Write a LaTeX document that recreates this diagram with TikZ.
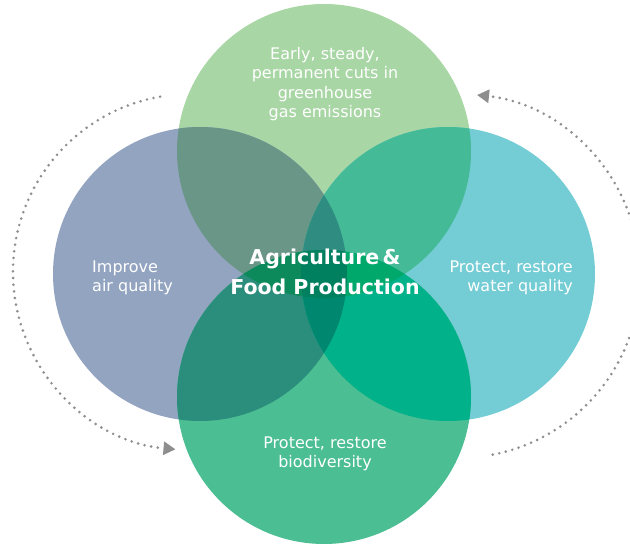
\documentclass[tikz,border=0pt]{standalone}
\usepackage{fontspec}
\setmainfont{DejaVu Sans}
\usetikzlibrary{arrows.meta}

\definecolor{topgreen}{HTML}{A9D6A5}
\definecolor{leftblue}{HTML}{93A4C1}
\definecolor{rightcyan}{HTML}{74CCD4}
\definecolor{botgreen}{HTML}{4CBE94}
\definecolor{tlcol}{HTML}{6A9688}
\definecolor{trcol}{HTML}{44BB96}
\definecolor{blcol}{HTML}{2B8D7B}
\definecolor{brcol}{HTML}{00B189}
\definecolor{tlrcol}{HTML}{2E8C80}
\definecolor{blrcol}{HTML}{00876F}
\definecolor{tlbcol}{HTML}{0C8A5C}
\definecolor{trbcol}{HTML}{00A86B}
\definecolor{allcol}{HTML}{00805E}
\definecolor{arcgray}{HTML}{8E8E8E}

\begin{document}
\begin{tikzpicture}[x=1pt,y=1pt,
		goal text/.style={text=white, inner sep=0pt, font=\fontsize{16}{19.5}\selectfont},
		core text/.style={text=white, inner sep=0pt, align=center, font=\fontsize{20.5}{30}\selectfont\bfseries},
		dotarc/.style={arcgray, line width=2.9pt, line cap=round, dash pattern=on 0pt off 6.7pt, -{Triangle[length=12pt,width=13pt]}}]
	\useasboundingbox (0,0) rectangle (630,544);
	\clip (0,0) rectangle (630,544);
	\def\rad{147}
	\coordinate (top) at (324,393);
	\coordinate (bot) at (324,147);
	\coordinate (lft) at (200,270);
	\coordinate (rgt) at (448,270);
	\coordinate (lc) at (191,272);
	\coordinate (rc) at (458,268);
	% circles
	\fill[topgreen] (top) circle (\rad);
	\fill[leftblue] (lft) circle (\rad);
	\fill[rightcyan] (rgt) circle (\rad);
	\fill[botgreen] (bot) circle (\rad);
	% pairs
	\begin{scope}
		\clip (top) circle (\rad);
		\fill[tlcol] (lft) circle (\rad);
		\fill[trcol] (rgt) circle (\rad);
	\end{scope}
	\begin{scope}
		\clip (bot) circle (\rad);
		\fill[blcol] (lft) circle (\rad);
		\fill[brcol] (rgt) circle (\rad);
	\end{scope}
	% triples
	\begin{scope}
		\clip (lft) circle (\rad);
		\clip (rgt) circle (\rad);
		\fill[tlrcol] (top) circle (\rad);
		\fill[blrcol] (bot) circle (\rad);
	\end{scope}
	\begin{scope}
		\clip (top) circle (\rad);
		\clip (bot) circle (\rad);
		\fill[tlbcol] (lft) circle (\rad);
		\fill[trbcol] (rgt) circle (\rad);
		\clip (lft) circle (\rad);
		\fill[allcol] (rgt) circle (\rad);
	\end{scope}
	% labels
	\node[goal text, align=center] (ghg) at (325,460) {Early, steady,\\permanent cuts in\\greenhouse\\gas emissions};
	\node[goal text, align=left, anchor=west] (air) at (92,266) {Improve\\air quality};
	\node[goal text, align=right, anchor=east] (water) at (573,266) {Protect, restore\\water quality};
	\node[goal text, align=center] (bio) at (325,90) {Protect, restore\\biodiversity};
	\node[core text] (agri) at (325,272) {Agriculture\,\&\\Food Production};
	% cycle arrows
	\draw[dotarc] ([shift={(100:178)}]lc) arc[start angle=100, end angle=265, radius=178];
	\draw[dotarc] ([shift={(-79:182)}]rc) arc[start angle=-79, end angle=84, radius=182];
\end{tikzpicture}
\end{document}
